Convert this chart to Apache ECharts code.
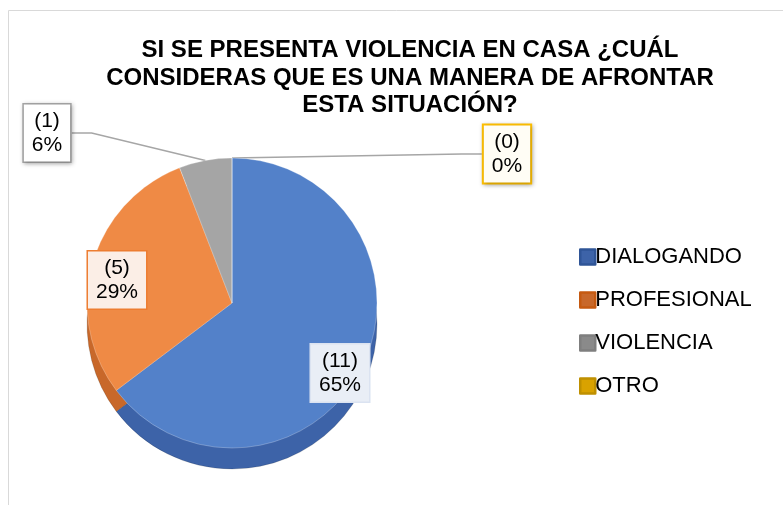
<!DOCTYPE html>
<html>
<head>
<meta charset="utf-8">
<script src="https://cdn.jsdelivr.net/npm/echarts@6/dist/echarts.min.js"></script>
<style>
  * { padding: 0; margin: 0; }
  body { background: #fff; }
  #chart { width: 783px; height: 505px; }
</style>
</head>
<body>
<div id="chart"></div>
<script>
// datos de la encuesta
var categories = ['DIALOGANDO', 'PROFESIONAL', 'VIOLENCIA', 'OTRO'];
var counts = [11, 5, 1, 0];
var topColors = ['#5381c9', '#ef8a45', '#a5a5a5', '#ffc000'];
var sideColors = ['#3d63a8', '#c8682a', '#8a8a8a', '#d9a200'];
var borderColors = ['#2f5597', '#c55a11', '#7f7f7f', '#bf9000'];
var labelBg = ['#e9eef6', '#fbeee6', '#ffffff', '#fffdf5'];
var labelBorder = ['#dbe3f1', '#ed7d31', '#a5a5a5', '#ffc000'];
// posiciones de las etiquetas (centro de la caja)
var labelPos = [[340, 373], [117, 280], [47, 133], [507, 154]];

var chart = echarts.init(document.getElementById('chart'));

var topData = categories.map(function (c, i) {
  var outside = i >= 2;
  var lbl = {
    position: outside ? 'outside' : 'inside',
    backgroundColor: labelBg[i],
    borderColor: labelBorder[i],
    borderWidth: i === 3 ? 2 : 1.5
  };
  if (outside) {
    lbl.shadowColor = 'rgba(0,0,0,0.25)';
    lbl.shadowBlur = 4;
    lbl.shadowOffsetX = 1;
    lbl.shadowOffsetY = 1;
  }
  return {
    name: c,
    value: counts[i],
    itemStyle: { color: topColors[i] },
    label: lbl,
    labelLine: { show: outside }
  };
});

var sideData = categories.map(function (c, i) {
  return { name: c, value: counts[i], itemStyle: { color: sideColors[i] } };
});

chart.setOption({
  title: {
    text: 'SI SE PRESENTA VIOLENCIA EN CASA ¿CUÁL\nCONSIDERAS QUE ES UNA MANERA DE AFRONTAR\nESTA SITUACIÓN?',
    left: 405,
    top: 32,
    textAlign: 'center',
    textStyle: {
      fontFamily: '"Liberation Sans", Arial, sans-serif',
      fontWeight: 'bold',
      fontSize: 24,
      lineHeight: 27.5,
      color: '#000'
    }
  },
  legend: {
    orient: 'vertical',
    left: 574,
    top: 241,
    itemWidth: 15,
    itemHeight: 15,
    itemGap: 21,
    icon: 'rect',
    selectedMode: false,
    textStyle: {
      fontFamily: '"Liberation Sans", Arial, sans-serif',
      fontSize: 22,
      color: '#000',
      padding: [0, 0, 0, -5]
    },
    data: categories.map(function (c, i) {
      return { name: c, itemStyle: { borderColor: borderColors[i], borderWidth: 2.5 } };
    })
  },
  graphic: [{
    type: 'rect',
    shape: { x: 8.5, y: 10.5, width: 800, height: 520 },
    style: { fill: 'none', stroke: '#d9d9d9', lineWidth: 1 },
    silent: true
  }],
  series: [
    {
      name: 'lado',
      type: 'pie',
      center: [232, 324],
      radius: 145,
      startAngle: 90,
      silent: true,
      label: { show: false },
      labelLine: { show: false },
      legendHoverLink: false,
      itemStyle: { borderColor: 'rgba(0,0,0,0.15)', borderWidth: 1 },
      data: sideData,
      z: 1
    },
    {
      name: 'respuestas',
      type: 'pie',
      center: [232, 303],
      radius: 145,
      startAngle: 90,
      percentPrecision: 0,
      itemStyle: { borderColor: 'rgba(255,255,255,0.25)', borderWidth: 1 },
      label: {
        show: true,
        formatter: '({c})\n{d}%',
        fontFamily: '"Liberation Sans", Arial, sans-serif',
        fontSize: 21,
        lineHeight: 24,
        color: '#000',
        align: 'center',
        padding: [5, 8, 4, 8]
      },
      labelLine: {
        length: 20,
        length2: 20,
        lineStyle: { color: '#a6a6a6', width: 1.5 }
      },
      labelLayout: function (params) {
        var p = labelPos[params.dataIndex];
        return {
          x: p[0],
          y: p[1],
          align: 'center',
          verticalAlign: 'middle'
        };
      },
      data: topData,
      z: 2
    }
  ]
});
</script>
</body>
</html>
